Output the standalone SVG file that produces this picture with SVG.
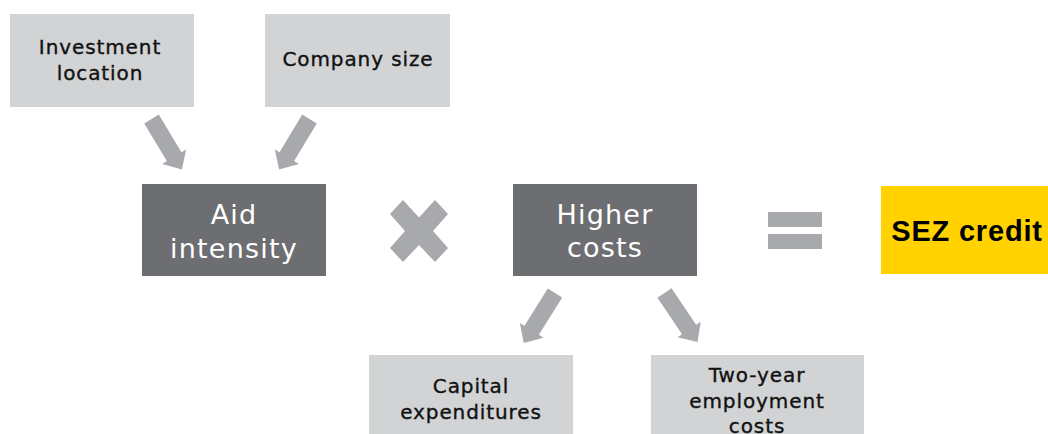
<svg xmlns="http://www.w3.org/2000/svg" width="1048" height="434" viewBox="0 0 1048 434">
<defs>
<style>
.light{fill:#d1d3d4}
.dark{fill:#6d6e71}
.sym{fill:#a7a9ac}
.t{font-family:"DejaVu Sans","Liberation Sans",sans-serif;font-size:20px;fill:#111;stroke:#111;stroke-width:0.35px;text-anchor:middle;letter-spacing:0.9px}
.tw{font-family:"DejaVu Sans","Liberation Sans",sans-serif;font-size:27px;fill:#fff;text-anchor:middle;letter-spacing:1.2px}
.tb{font-family:"Liberation Sans",Arial,sans-serif;font-weight:bold;font-size:29px;fill:#000;text-anchor:middle;letter-spacing:0.8px}
</style>
<path id="arr" d="M0,-8.5 L44,-8.5 L44,-14 L59,0 L44,14 L44,8.5 L0,8.5 Z"/>
</defs>
<rect width="1048" height="434" fill="#fff"/>
<g id="investment-location">
<rect class="light" x="10" y="14" width="184" height="93"/>
<text class="t" x="100" y="54">Investment</text>
<text class="t" x="100" y="80">location</text>
</g>
<g id="company-size">
<rect class="light" x="265" y="14" width="185" height="93"/>
<text class="t" x="358" y="66">Company size</text>
</g>
<g id="aid-intensity">
<rect class="dark" x="142" y="184" width="184" height="92"/>
<text class="tw" x="234" y="224">Aid</text>
<text class="tw" x="234" y="258">intensity</text>
</g>
<g id="times">
<polygon class="sym" points="390,214 403,200 419,217.5 435,200 448,214 433,231 448,248 435,262 419,245 403,262 390,248 405,231"/>
</g>
<g id="higher-costs">
<rect class="dark" x="513" y="184" width="184" height="92"/>
<text class="tw" x="605" y="224">Higher</text>
<text class="tw" x="605" y="257">costs</text>
</g>
<g id="equals">
<rect class="sym" x="768" y="212" width="54" height="15"/>
<rect class="sym" x="768" y="234" width="54" height="15"/>
</g>
<g id="sez-credit">
<rect x="881" y="186" width="167" height="88" fill="#ffd200"/>
<text class="tb" x="967" y="241">SEZ credit</text>
</g>
<g id="capital-expenditures">
<rect class="light" x="369" y="355" width="204" height="79"/>
<text class="t" x="471" y="393">Capital</text>
<text class="t" x="471" y="419">expenditures</text>
</g>
<g id="two-year-employment-costs">
<rect class="light" x="651" y="355" width="213" height="79"/>
<text class="t" x="757" y="382">Two-year</text>
<text class="t" x="757" y="408">employment</text>
<text class="t" x="757" y="433">costs</text>
</g>
<g id="connectors" class="sym">
<use href="#arr" transform="translate(151.5,119) rotate(59)"/>
<use href="#arr" transform="translate(309.5,119) rotate(121)"/>
<use href="#arr" transform="translate(555,293) rotate(122)"/>
<use href="#arr" transform="translate(664.5,293) rotate(56)"/>
</g>
</svg>
